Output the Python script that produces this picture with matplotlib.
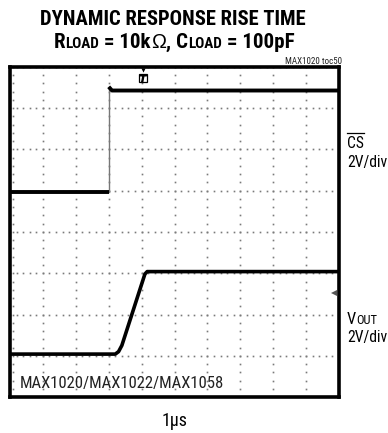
import os
import numpy as np
import matplotlib
matplotlib.use("Agg")
import matplotlib.pyplot as plt
from matplotlib import font_manager as fm
from matplotlib.lines import Line2D

# Scope screen: 10 horizontal divisions, 8 vertical divisions
n_xdiv = 10
n_ydiv = 8

# CS trace (divisions)
cs_t = [0.0, 3.0, 3.0, 3.1, 10.0]
cs_v = [4.98, 4.98, 7.52, 7.43, 7.43]

# VOUT trace (divisions)
vout_t = [0.0, 3.2, 3.3, 3.4, 4.1, 4.17, 10.0]
vout_v = [1.04, 1.04, 1.10, 1.25, 2.98, 3.04, 3.04]


def pick_font(names, fallback_family, weight):
    files = {os.path.basename(f.fname): f.fname for f in fm.fontManager.ttflist}
    for n in names:
        if n in files:
            return fm.FontProperties(fname=files[n])
    return fm.FontProperties(family=fallback_family, weight=weight)


narrow = pick_font(['LiberationSansNarrow-Regular.ttf', 'RobotoCondensed-Regular.ttf',
                    'DejaVuSansCondensed.ttf'], 'Liberation Sans', 'normal')
narrow_bold = pick_font(['LiberationSansNarrow-Bold.ttf', 'RobotoCondensed-Bold.ttf',
                         'DejaVuSansCondensed-Bold.ttf'], 'Liberation Sans', 'bold')
plain = fm.FontProperties(family='Liberation Sans')

W, H = 388, 433
fig = plt.figure(figsize=(W / 100, H / 100), dpi=100)
renderer = fig.canvas.get_renderer()


def px(x, y):
    return x / W, 1 - y / H


def text_width(s, fp, size):
    t = fig.text(0, 0, s, fontproperties=fp, fontsize=size)
    w = t.get_window_extent(renderer).width
    t.remove()
    return w


def fit_size(s, fp, width_px):
    return 10 * width_px / text_width(s, fp, 10)


def runs(x, y, pieces, align='left'):
    """Lay out (text, fontprops, size, dy_px) pieces on one baseline."""
    widths = [text_width(s, fp, sz) for s, fp, sz, dy in pieces]
    total = sum(widths)
    cx = x - total / 2 if align == 'center' else x
    spans = []
    for (s, fp, sz, dy), w in zip(pieces, widths):
        fig.text(cx / W, 1 - (y + dy) / H, s, fontproperties=fp, fontsize=sz,
                 ha='left', va='baseline')
        spans.append((cx, cx + w))
        cx += w
    return spans


x0, y0, x1, y1 = 10, 67, 339, 397
ax = fig.add_axes([x0 / W, 1 - y1 / H, (x1 - x0) / W, (y1 - y0) / H])
ax.set_xlim(0, n_xdiv)
ax.set_ylim(0, n_ydiv)
ax.set_xticks([])
ax.set_yticks([])
for s in ax.spines.values():
    s.set_linewidth(2.6)
    s.set_color('black')

# dotted graticule
dot_kw = dict(ls='none', marker='s', ms=1.2, mew=0, color='#7a7a7a', zorder=1)
for gx in range(1, n_xdiv):
    yy = np.arange(0, n_ydiv + 0.001, 0.2)
    ax.plot(np.full_like(yy, gx), yy, **dot_kw)
for gy in range(0, n_ydiv + 1):
    xx = np.arange(0, n_xdiv + 0.001, 0.2)
    ax.plot(xx, np.full_like(xx, gy), **dot_kw)
yy = np.arange(0, n_ydiv + 0.001, 0.2)
ax.plot(np.full_like(yy, 0.08), yy, **dot_kw)

# traces
ax.plot(cs_t[:2], cs_v[:2], color='black', lw=2.8, solid_capstyle='butt', zorder=3)
ax.plot(cs_t[1:3], cs_v[1:3], color='#777777', lw=1.0, zorder=2)
ax.plot(cs_t[2:], cs_v[2:], color='black', lw=2.8, solid_capstyle='butt', zorder=3)
ax.plot(vout_t, vout_v, color='black', lw=2.6, solid_joinstyle='round', zorder=3)

# trigger marker and ground marker
ax.plot([4.04], [7.73], marker='s', ms=6, mfc='white', mec='black', mew=0.9, zorder=4)
ax.plot([4.04], [7.73], marker='$T$', ms=5, color='black', zorder=5)
ax.plot([4.04], [7.93], marker='v', ms=3, color='black', mew=0, zorder=5, clip_on=False)
ax.plot([9.84], [2.53], marker='<', ms=5, color='#555555', mew=0, zorder=4)

# part-number label inside the screen
lbl = 'MAX1020/MAX1022/MAX1058'
fig.text(*px(20, 388), lbl, fontproperties=narrow, fontsize=fit_size(lbl, narrow, 204),
         color='#222222', ha='left', va='baseline')

# titles
t1 = 'DYNAMIC RESPONSE RISE TIME'
fig.text(*px(173, 25), t1, fontproperties=narrow_bold, fontsize=fit_size(t1, narrow_bold, 265),
         ha='center', va='baseline')
big = fit_size(t1, narrow_bold, 265) * 1.02
small = big * 0.72
runs(174, 48, [('R', narrow_bold, big, 0), ('LOAD', narrow_bold, small, 0),
               (' = 10k', narrow_bold, big, 0), ('\u03a9', plain, big * 0.95, 0),
               (', C', narrow_bold, big, 0), ('LOAD', narrow_bold, small, 0),
               (' = 100pF', narrow_bold, big, 0)], align='center')
fig.text(*px(342, 64), 'MAX1020 toc50', fontproperties=narrow, fontsize=6.5,
         ha='right', va='baseline', color='#222222')

# channel labels
lab = fit_size('2V/div', narrow, 40)
sp = runs(347, 148, [('CS', narrow, lab, 0)])
fig.add_artist(Line2D([sp[0][0] / W, sp[0][1] / W], [1 - 132.5 / H] * 2,
                      color='black', lw=0.9))
runs(347, 167, [('2V/div', narrow, lab, 0)])
runs(347, 324, [('V', narrow, lab * 1.05, 0), ('OUT', narrow, lab * 0.8, 0)])
runs(347, 342, [('2V/div', narrow, lab, 0)])

fig.text(*px(175, 426), '1\u00b5s', fontproperties=narrow, fontsize=lab * 1.15,
         ha='center', va='baseline')

fig.savefig('out.png', dpi=100)
